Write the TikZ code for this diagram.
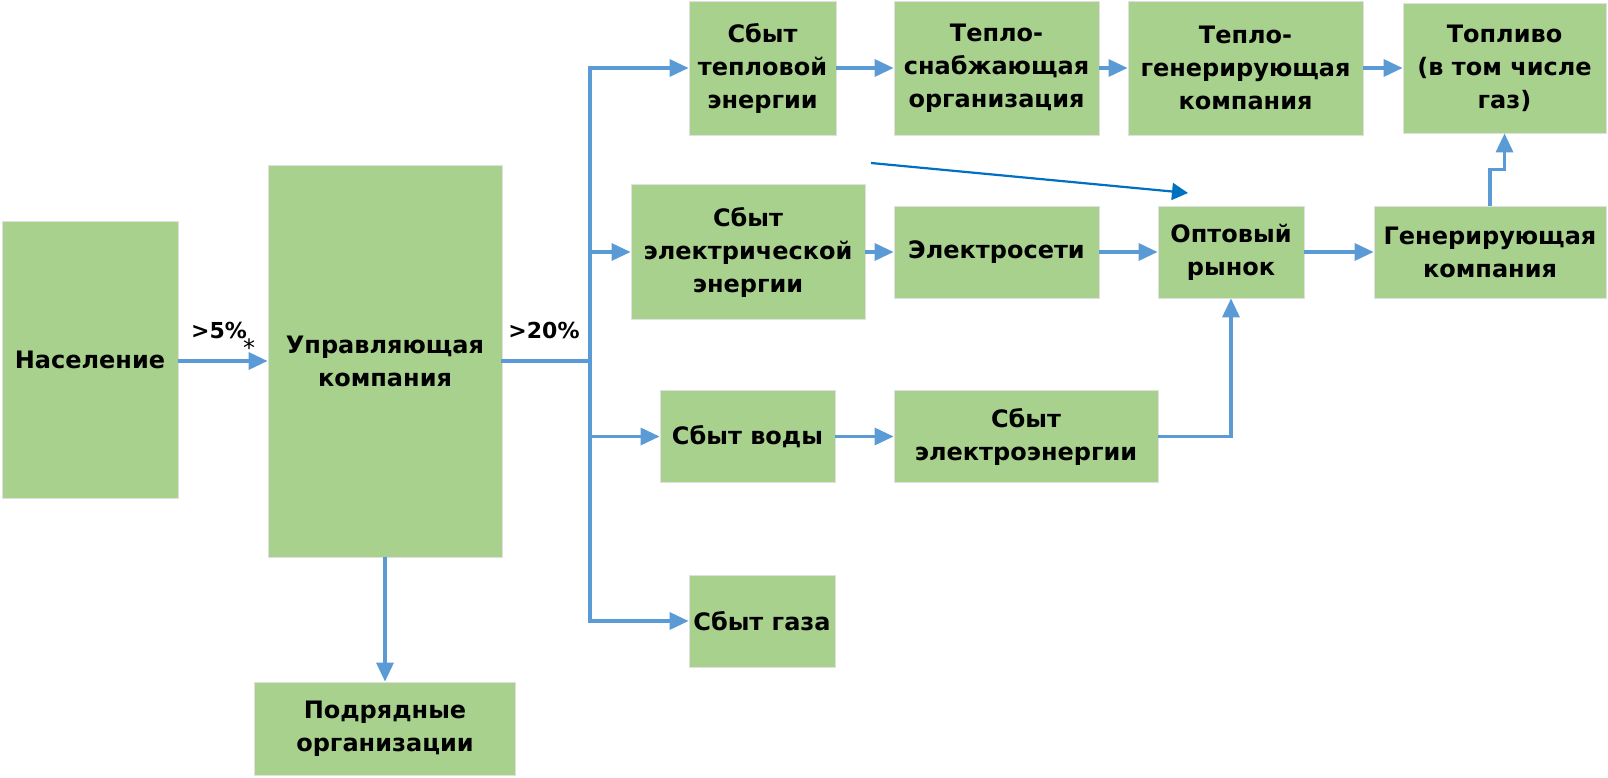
\documentclass[tikz,border=0pt]{standalone}
\usepackage{fontspec}
\setmainfont{DejaVu Sans}
\usetikzlibrary{arrows.meta,calc}
\definecolor{boxgreen}{HTML}{A9D18E}
\definecolor{connblue}{HTML}{5B9BD5}
\definecolor{darkblue}{HTML}{0070C0}
\tikzset{
  box/.style={rectangle, fill=boxgreen, draw=black!12, line width=0.8pt, inner sep=0pt,
    align=center, font=\bfseries\fontsize{24}{33}\selectfont},
  conn/.style={draw=connblue, line width=3.4pt, line cap=rect},
  arr/.style={draw=connblue, line width=3.4pt, -{Triangle[length=19pt,width=17pt]}},
  thinarr/.style={draw=darkblue, line width=2.2pt, -{Triangle[length=16pt,width=17pt]}},
  lbl/.style={inner sep=0pt, font=\bfseries\fontsize{22}{26}\selectfont},
}
\begin{document}
\begin{tikzpicture}[x=1pt,y=-1pt]
\useasboundingbox (0,0) rectangle (1608,778);
% boxes
\node[box, minimum width=176pt, minimum height=277pt] (pop) at (90,360) {Население};
\node[box, minimum width=234pt, minimum height=392pt] (uk) at (385,361) {Управляющая\\компания};
\node[box, minimum width=147pt, minimum height=134pt] (heatsale) at (762.5,68) {Сбыт\\тепловой\\энергии};
\node[box, minimum width=205pt, minimum height=134pt] (heatsup) at (996.5,68) {Тепло-\\снабжающая\\организация};
\node[box, minimum width=235pt, minimum height=134pt] (heatgen) at (1245.5,68) {Тепло-\\генерирующая\\компания};
\node[box, minimum width=203pt, minimum height=130pt] (fuel) at (1504.5,68) {Топливо\\(в том числе\\газ)};
\node[box, minimum width=234pt, minimum height=135pt] (elsale) at (748,252) {Сбыт\\электрической\\энергии};
\node[box, minimum width=205pt, minimum height=92pt] (grid) at (996.5,252) {Электросети};
\node[box, minimum width=146pt, minimum height=92pt] (market) at (1231,252) {Оптовый\\рынок};
\node[box, minimum width=232pt, minimum height=92pt] (gen) at (1490,252) {Генерирующая\\компания};
\node[box, minimum width=175pt, minimum height=92pt] (water) at (747.5,436.5) {Сбыт воды};
\node[box, minimum width=264pt, minimum height=92pt] (elsale2) at (1026,436.5) {Сбыт\\электроэнергии};
\node[box, minimum width=146pt, minimum height=92pt] (gas) at (762,621) {Сбыт газа};
\node[box, minimum width=261pt, minimum height=93pt] (contr) at (385,728.5) {Подрядные\\организации};
% labels
\node[lbl] (p5) at (219,330) {>5\%};
\node[inner sep=0pt, font=\fontsize{24}{26}\selectfont] (star) at (249,348) {*};
\node[lbl] (p20) at (544,330) {>20\%};
% trunk
\coordinate (trunk) at (590,0);
\draw[arr] (pop.east |- uk.west) -- (uk.west);
\draw[conn] (uk.east) -- (uk.east -| trunk);
\draw[conn] (trunk |- heatsale.west) -- (trunk |- gas.west);
\draw[arr] (trunk |- heatsale.west) -- (heatsale.west);
\draw[arr] (trunk |- elsale.west) -- (elsale.west);
\draw[arr] (trunk |- water.west) -- (water.west);
\draw[arr] (trunk |- gas.west) -- (gas.west);
\draw[arr] (uk.south) -- (contr.north);
% chains
\draw[arr] (heatsale.east) -- (heatsup.west);
\draw[arr] (heatsup.east) -- (heatgen.west);
\draw[arr] (heatgen.east) -- (heatgen.east -| fuel.west);
\draw[arr] (elsale.east) -- (grid.west);
\draw[arr] (grid.east) -- (market.west);
\draw[arr] (market.east) -- (gen.west);
\draw[arr] (water.east) -- (elsale2.west);
\draw[arr] (elsale2.east) -| (market.south);
\draw[arr] (gen.north) -- ++(0,-36) -| (fuel.south);
% thin arrow
\coordinate (ta) at (871,163);
\coordinate (tb) at (1188,193);
\draw[thinarr] (ta) -- (tb);
\end{tikzpicture}
\end{document}
